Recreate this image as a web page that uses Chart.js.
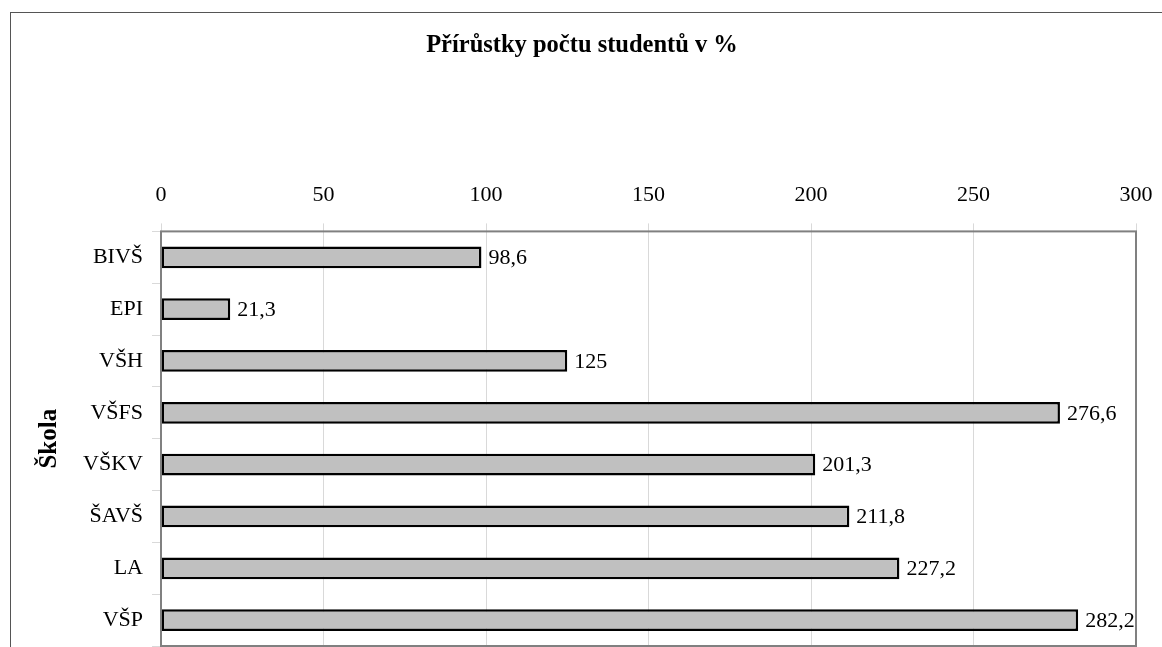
<!DOCTYPE html>
<html>
<head>
<meta charset="utf-8">
<script src="https://cdn.jsdelivr.net/npm/chart.js@4"></script>
<style>
  body { margin: 0; background: #fff; }
  #wrap { position: absolute; left: 0; top: 0; width: 1162px; height: 647px; }
  #frame { position: absolute; left: 10px; top: 12px; right: -5px; bottom: -5px; border-left: 1.5px solid #555; border-top: 1.5px solid #555; }
</style>
</head>
<body>
<div id="wrap">
  <div id="frame"></div>
  <canvas id="bars" width="1162" height="647"></canvas>
</div>
<script>
    const skoly = ['BIVŠ', 'EPI', 'VŠH', 'VŠFS', 'VŠKV', 'ŠAVŠ', 'LA', 'VŠP'];
    const prirustky = [98.6, 21.3, 125, 276.6, 201.3, 211.8, 227.2, 282.2];
    const osaX = [0, 50, 100, 150, 200, 250, 300];

    const serif = "'Liberation Serif', 'DejaVu Serif', serif";

    // popisky hodnot za koncem sloupcu
    const hodnoty = {
        id: 'hodnoty',
        afterDatasetsDraw(chart) {
            const ctx = chart.ctx;
            const meta = chart.getDatasetMeta(0);
            ctx.save();
            ctx.font = '22px ' + serif;
            ctx.fillStyle = '#000';
            ctx.textAlign = 'left';
            ctx.textBaseline = 'middle';
            meta.data.forEach((bar, i) => {
                const txt = String(prirustky[i]).replace('.', ',');
                ctx.fillText(txt, bar.x + 7, bar.y + 1);
            });
            ctx.restore();
        }
    };

    // ramecek plochy grafu
    const ramecek = {
        id: 'ramecek',
        afterDraw(chart) {
            const a = chart.chartArea;
            const ctx = chart.ctx;
            ctx.save();
            ctx.strokeStyle = '#808080';
            ctx.lineWidth = 2;
            ctx.strokeRect(a.left, a.top, a.right - a.left, a.bottom - a.top);
            ctx.restore();
        }
    };

    const ctx = document.getElementById('bars');
    let mychart = new Chart(ctx, {
        type: 'bar',
        data: {
            labels: skoly,
            datasets: [{
                label: 'Přírůstky',
                data: prirustky,
                backgroundColor: '#c0c0c0',
                borderColor: '#000',
                borderWidth: 2.5,
                borderSkipped: false,
                barPercentage: 0.42,
                categoryPercentage: 1
            }]
        },
        plugins: [hodnoty, ramecek],
        options: {
            indexAxis: 'y',
            responsive: false,
            animation: false,
            layout: { autoPadding: false, padding: { left: 28, right: 26, top: 0, bottom: 1 } },
            plugins: {
                legend: { display: false },
                tooltip: { enabled: false },
                title: {
                    display: true,
                    text: 'Přírůstky počtu studentů v %',
                    color: '#000',
                    font: { family: serif, size: 24.5, weight: 'bold' },
                    padding: { top: 31, bottom: 0 }
                }
            },
            scales: {
                x: {
                    position: 'top',
                    min: 0,
                    max: 300,
                    afterBuildTicks(axis) { axis.ticks = osaX.map(v => ({ value: v })); },
                    afterFit(axis) {
                        axis.height = 171;
                        axis.paddingLeft = 0;
                        axis.paddingRight = 0;
                    },
                    grid: { color: '#d9d9d9', lineWidth: 1, tickLength: 8, tickColor: '#d9d9d9' },
                    border: { display: false },
                    ticks: { color: '#000', padding: 15, font: { family: serif, size: 22 } }
                },
                y: {
                    afterFit(axis) {
                        axis.width = 133;
                        axis.paddingTop = 0;
                        axis.paddingBottom = 0;
                    },
                    grid: { display: true, offset: true, drawOnChartArea: false, tickLength: 9, tickColor: '#d9d9d9' },
                    border: { display: false },
                    ticks: { color: '#000', padding: 9, font: { family: serif, size: 22 } },
                    title: {
                        display: true,
                        text: 'Škola',
                        color: '#000',
                        font: { family: serif, size: 25, weight: 'bold' },
                        padding: { top: 7, bottom: 0 }
                    }
                }
            }
        }
    });
</script>
</body>
</html>
